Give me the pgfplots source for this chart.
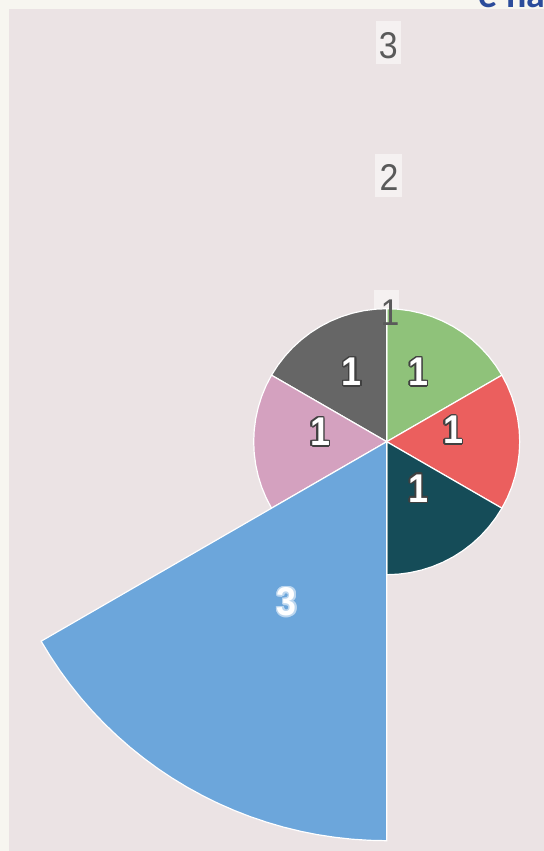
\documentclass[border=0pt]{standalone}
\usepackage{pgfplots}
\pgfplotsset{compat=1.18}
\usetikzlibrary{calc}
\usepackage{fontspec}
\setmainfont{Liberation Sans}
\newfontfamily\carlito{Carlito}
\definecolor{bg}{HTML}{EBE3E4}
\definecolor{outer}{HTML}{F7F6F0}
\definecolor{cgreen}{HTML}{8FC27A}
\definecolor{cred}{HTML}{EB5F5E}
\definecolor{cteal}{HTML}{154C58}
\definecolor{cblue}{HTML}{6CA6DB}
\definecolor{cpink}{HTML}{D4A1BF}
\definecolor{cgray}{HTML}{666666}
\definecolor{tickc}{HTML}{5A5A5A}
\definecolor{titleblue}{HTML}{2B4C9B}
\begin{document}
\begin{tikzpicture}
\clip (0,0) rectangle (272bp,425.5bp);
\fill[outer] (0,0) rectangle (272bp,425.5bp);
\node[anchor=base west, text=titleblue, inner sep=0, font=\carlito\bfseries\fontsize{19}{19}\selectfont] at (239bp,421.5bp) {e na};
\begin{axis}[at={(4.5bp,0)}, anchor=south west,
  x=66.5bp, y=66.5bp,
  xmin=-2.8398, xmax=1.1827, ymin=-3.0774, ymax=3.2534,
  enlargelimits=false, hide axis, clip=true]
\fill[bg] (rel axis cs:0,0) rectangle (rel axis cs:1,1);
% tick label boxes
\node[fill=white, fill opacity=0.5, minimum width=12.5bp, minimum height=21.5bp, inner sep=0] at (axis cs:0.01,3) {};
\node[fill=white, fill opacity=0.5, minimum width=13.5bp, minimum height=21.5bp, inner sep=0] at (axis cs:0.01,2) {};
\node[fill=white, fill opacity=0.5, minimum width=12.5bp, minimum height=19bp, inner sep=0] at (axis cs:0.0,1) {};
% sectors: (angle, value)
\addplot[data cs=polar, fill=cgreen, draw=white, line width=0.6bp] coordinates {
(0,0) (30,1) (35,1) (40,1) (45,1) (50,1) (55,1) (60,1) (65,1) (70,1) (75,1) (80,1) (85,1) (90,1) (0,0)};
\addplot[data cs=polar, fill=cred, draw=white, line width=0.6bp] coordinates {
(0,0) (-30,1) (-25,1) (-20,1) (-15,1) (-10,1) (-5,1) (0,1) (5,1) (10,1) (15,1) (20,1) (25,1) (30,1) (0,0)};
\addplot[data cs=polar, fill=cteal, draw=white, line width=0.6bp] coordinates {
(0,0) (-90,1) (-85,1) (-80,1) (-75,1) (-70,1) (-65,1) (-60,1) (-55,1) (-50,1) (-45,1) (-40,1) (-35,1) (-30,1) (0,0)};
\addplot[data cs=polar, fill=cgray, draw=white, line width=0.6bp] coordinates {
(0,0) (90,1) (95,1) (100,1) (105,1) (110,1) (115,1) (120,1) (125,1) (130,1) (135,1) (140,1) (145,1) (150,1) (0,0)};
\addplot[data cs=polar, fill=cpink, draw=white, line width=0.6bp] coordinates {
(0,0) (150,1) (155,1) (160,1) (165,1) (170,1) (175,1) (180,1) (185,1) (190,1) (195,1) (200,1) (205,1) (210,1) (0,0)};
\addplot[data cs=polar, fill=cblue, draw=white, line width=0.6bp] coordinates {
(0,0) (210,3) (212.5,3) (215,3) (217.5,3) (220,3) (222.5,3) (225,3) (227.5,3) (230,3) (232.5,3) (235,3) (237.5,3) (240,3) (242.5,3) (245,3) (247.5,3) (250,3) (252.5,3) (255,3) (257.5,3) (260,3) (262.5,3) (265,3) (267.5,3) (270,3) (0,0)};
% radial tick labels
\node[text=tickc, inner sep=0, yscale=1.1, font=\fontsize{17}{20}\selectfont] at (axis cs:0.012,2.98) {3};
\node[text=tickc, inner sep=0, yscale=1.1, font=\fontsize{17}{20}\selectfont] at (axis cs:0.018,1.99) {2};
\node[text=tickc, inner sep=0, yscale=1.1, font=\fontsize{17}{20}\selectfont] at (axis cs:0.025,0.97) {1};
% label anchors
\coordinate (Lg) at (axis cs:0.238,0.526);
\coordinate (Lr) at (axis cs:0.5,0.088);
\coordinate (Lt) at (axis cs:0.238,-0.35);
\coordinate (Lp) at (axis cs:-0.5,0.075);
\coordinate (Lk) at (axis cs:-0.263,0.526);
\coordinate (Lb) at (axis cs:-0.752,-1.203);
\end{axis}
\foreach \c in {Lg,Lr,Lt,Lp,Lk} {
  \foreach \a in {0,30,...,330}
    \node[text=black!75, inner sep=0, yscale=1.12, font=\bfseries\fontsize{18}{20}\selectfont] at ($(\c)+(\a:0.75bp)$) {1};
  \node[text=white, inner sep=0, yscale=1.12, font=\bfseries\fontsize{18}{20}\selectfont] at (\c) {1};
}
\foreach \a in {0,30,...,330}
  \node[text=white!55!cblue, inner sep=0, yscale=1.12, font=\bfseries\fontsize{18}{20}\selectfont] at ($(Lb)+(\a:0.75bp)$) {3};
\node[text=white, inner sep=0, yscale=1.12, font=\bfseries\fontsize{18}{20}\selectfont] at (Lb) {3};
\end{tikzpicture}
\end{document}
